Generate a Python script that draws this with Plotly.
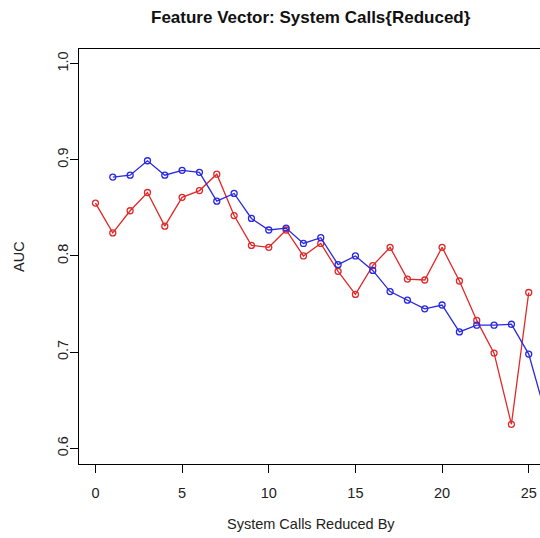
import plotly.graph_objects as go

title_text = "Feature Vector: System Calls{Reduced}"
x_label = "System Calls Reduced By"
y_label = "AUC"

red_x = list(range(0, 26))
red_y = [0.855, 0.824, 0.847, 0.866, 0.831, 0.861, 0.868, 0.885, 0.842, 0.811,
         0.809, 0.827, 0.800, 0.813, 0.784, 0.760, 0.790, 0.809, 0.776, 0.775,
         0.809, 0.774, 0.733, 0.699, 0.625, 0.762]

blue_x = list(range(1, 27))
blue_y = [0.882, 0.884, 0.899, 0.884, 0.889, 0.887, 0.857, 0.865, 0.839, 0.827,
          0.829, 0.813, 0.819, 0.791, 0.800, 0.785, 0.763, 0.754, 0.745, 0.749,
          0.721, 0.728, 0.728, 0.729, 0.698, 0.634]

x_ticks = [0, 5, 10, 15, 20, 25]
y_ticks = [0.6, 0.7, 0.8, 0.9, 1.0]

fig = go.Figure()
fig.add_trace(go.Scatter(
    x=red_x, y=red_y, mode="lines+markers",
    line=dict(color="#e02828", width=1.3),
    marker=dict(symbol="circle-open", size=6, color="#e02828", line=dict(width=1.3)),
    showlegend=False, cliponaxis=True))
fig.add_trace(go.Scatter(
    x=blue_x, y=blue_y, mode="lines+markers",
    line=dict(color="#2828e0", width=1.3),
    marker=dict(symbol="circle-open", size=6, color="#2828e0", line=dict(width=1.3)),
    showlegend=False, cliponaxis=True))

font = "Liberation Sans, Arial, sans-serif"
lab_size = 14.5

fig.update_layout(
    width=540, height=538,
    margin=dict(l=79, r=0, t=49, b=74),
    paper_bgcolor="white", plot_bgcolor="white",
    font=dict(family=font, size=lab_size, color="#222222"),
    xaxis=dict(
        range=[-0.95, 25.65], tickmode="array", tickvals=x_ticks,
        ticktext=[str(v) for v in x_ticks],
        showgrid=False, zeroline=False, showline=True, linecolor="black",
        linewidth=1.3, mirror=True, ticks="outside", ticklen=8, tickwidth=1.3,
        tickcolor="black", tickfont=dict(size=lab_size, color="#222222"),
        ticklabelstandoff=7,
    ),
    yaxis=dict(
        range=[0.5837, 1.0152], tickmode="array", tickvals=y_ticks,
        ticktext=["0.6", "0.7", "0.8", "0.9", "1.0"],
        showgrid=False, zeroline=False, showline=True, linecolor="black",
        linewidth=1.3, mirror=False, ticks="outside", ticklen=8, tickwidth=1.3,
        tickcolor="black", tickangle=-90, tickfont=dict(size=lab_size, color="#222222"),
        ticklabelstandoff=-4,
    ),
    annotations=[
        dict(text="<b>" + title_text + "</b>", xref="paper", yref="paper",
             x=(311 - 79) / 461, y=1 + (49 - 17) / 415, showarrow=False,
             xanchor="center", yanchor="middle",
             font=dict(size=17, color="#111111", family=font)),
        dict(text=x_label, xref="paper", yref="paper",
             x=(311 - 79) / 461, y=-(524 - 464) / 415, showarrow=False,
             xanchor="center", yanchor="middle",
             font=dict(size=lab_size, color="#222222", family=font)),
        dict(text=y_label, xref="paper", yref="paper",
             x=-(79 - 19) / 461, y=(464 - 257) / 415, showarrow=False,
             xanchor="center", yanchor="middle", textangle=-90,
             font=dict(size=lab_size, color="#222222", family=font)),
    ],
)

fig.write_html(
    "out.html",
    config={"displayModeBar": False},
    post_script="document.body.style.margin='0';document.body.style.overflow='hidden';",
)
